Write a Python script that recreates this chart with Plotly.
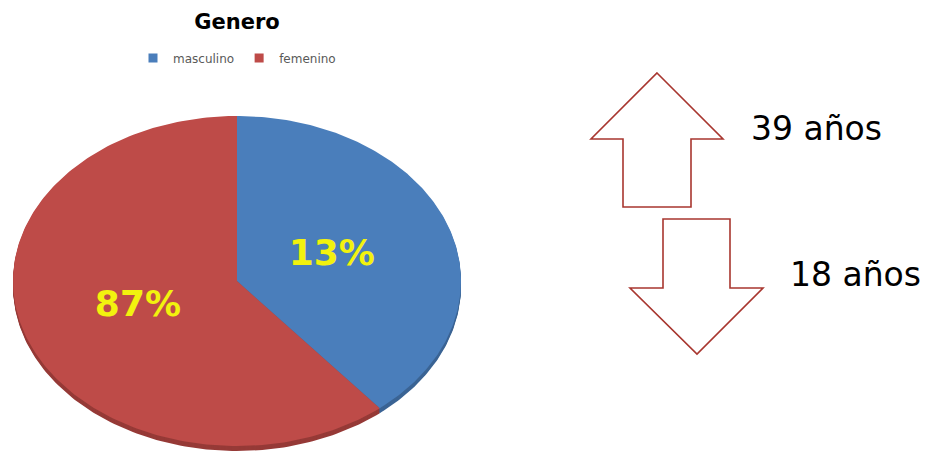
import numpy as np
import plotly.graph_objects as go

# ---- data ----
categories = ["masculino", "femenino"]
slice_sizes = [39, 61]              # angular share of each slice as drawn
slice_labels = ["13%", "87%"]       # percentages printed on the slices
colors = ["#4A7EBB", "#BE4B48"]
rim_colors = ["#3B6494", "#963A37"]
age_labels = ["39 años", "18 años"]

# ---- geometry (pixel-like axis space) ----
W, H = 925, 457
cx, cy, rx, ry = 237, 281, 224, 165
depth = 5

fig = go.Figure()

total = sum(slice_sizes)
angles = np.cumsum([0] + slice_sizes) / total * 2 * np.pi


def wedge(a0, a1, dy=0.0):
    t = np.linspace(a0, a1, 200)
    xs = np.concatenate([[cx], cx + rx * np.sin(t), [cx]])
    ys = np.concatenate([[cy + dy], cy + dy - ry * np.cos(t), [cy + dy]])
    return xs, ys


# 3D rim (drawn under the top face, shifted down)
for i in range(len(slice_sizes)):
    for d in np.linspace(depth, 1, 5):
        xs, ys = wedge(angles[i], angles[i + 1], d)
        fig.add_trace(go.Scatter(x=xs, y=ys, fill="toself", fillcolor=rim_colors[i],
                                 line=dict(width=0, color=rim_colors[i]), mode="lines",
                                 hoverinfo="skip", showlegend=False))

# top faces
for i in range(len(slice_sizes)):
    xs, ys = wedge(angles[i], angles[i + 1])
    fig.add_trace(go.Scatter(x=xs, y=ys, fill="toself", fillcolor=colors[i],
                             line=dict(width=0, color=colors[i]), mode="lines",
                             name=categories[i], hoverinfo="name", showlegend=False))

# slice labels
lx, ly = [], []
for i in range(len(slice_sizes)):
    mid = (angles[i] + angles[i + 1]) / 2
    f = 0.45 if i == 0 else 0.47
    lx.append(cx + f * rx * np.sin(mid))
    ly.append(cy - f * ry * np.cos(mid))
fig.add_trace(go.Scatter(x=lx, y=ly, mode="text", text=["<b>%s</b>" % s for s in slice_labels],
                         textfont=dict(family="DejaVu Sans", size=36, color="#F2F20E"),
                         textposition="middle center", hoverinfo="skip", showlegend=False))

# legend entries
for i, c in enumerate(categories):
    fig.add_trace(go.Scatter(x=[None], y=[None], mode="markers", name=c,
                             marker=dict(symbol="square", size=9, color=colors[i])))

# arrows (outline shapes)
arrow_col = "#A8362F"
up = "M 657 73 L 723 139 L 691 139 L 691 207 L 623 207 L 623 139 L 591 139 Z"
down = "M 663 219 L 730 219 L 730 288 L 763 288 L 697 354 L 630 288 L 663 288 Z"
for p in (up, down):
    fig.add_shape(type="path", path=p, xref="x", yref="y",
                  line=dict(color=arrow_col, width=1.6), fillcolor="rgba(0,0,0,0)")

fig.add_annotation(x=816, y=128, xref="x", yref="y", text=age_labels[0], showarrow=False,
                   font=dict(family="DejaVu Sans", size=33, color="#000000"))
fig.add_annotation(x=855, y=274, xref="x", yref="y", text=age_labels[1], showarrow=False,
                   font=dict(family="DejaVu Sans", size=33, color="#000000"))

fig.update_layout(
    width=W, height=H, autosize=False,
    margin=dict(l=0, r=0, t=0, b=0),
    paper_bgcolor="white", plot_bgcolor="white",
    title=dict(text="<b>Genero</b>", x=237 / W, xanchor="center", y=1 - 22 / H, yanchor="middle",
               font=dict(family="DejaVu Sans", size=21, color="#000000")),
    xaxis=dict(range=[0, W], visible=False, fixedrange=True),
    yaxis=dict(range=[H, 0], visible=False, fixedrange=True),
    legend=dict(orientation="h", x=237 / W, xanchor="center", y=1 - 58 / H, yanchor="middle",
                font=dict(family="DejaVu Sans", size=12, color="#595959"),
                bgcolor="rgba(0,0,0,0)", itemwidth=30, tracegroupgap=0),
    showlegend=True,
)

fig.write_html("out.html")
